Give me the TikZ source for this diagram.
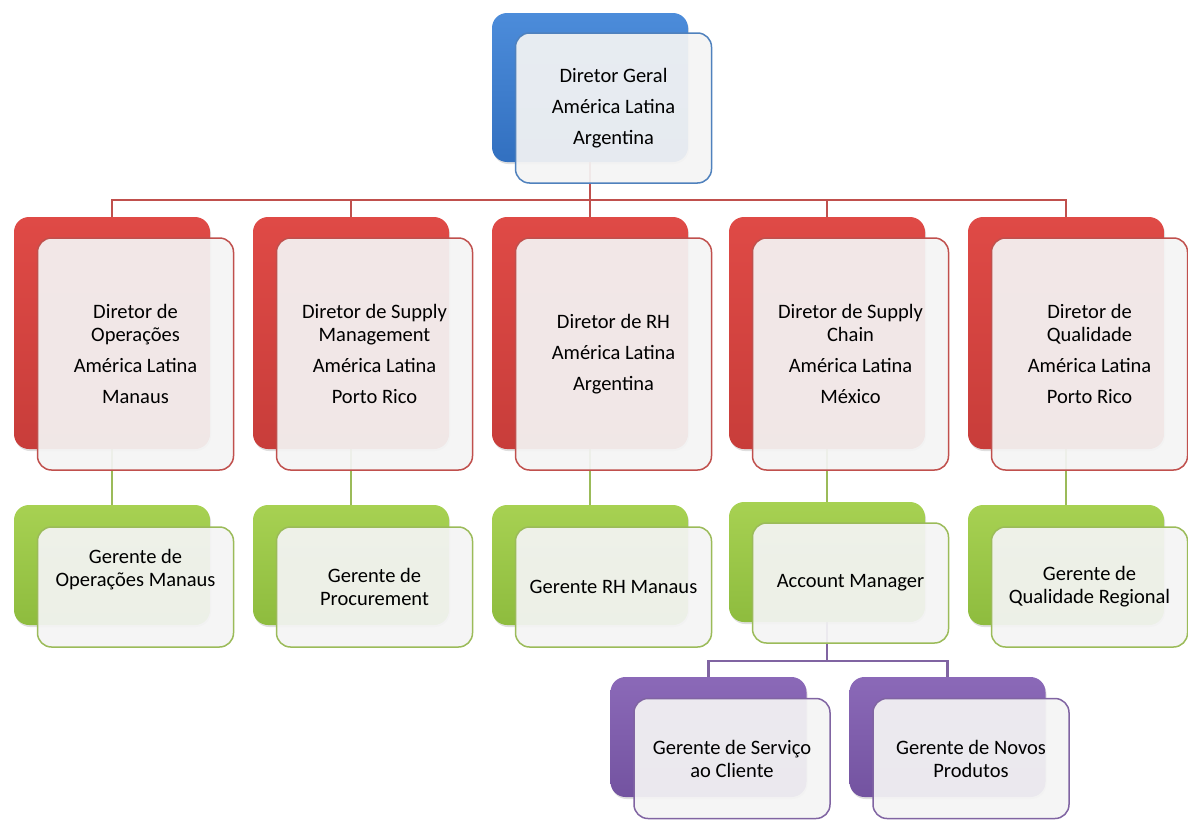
\documentclass[tikz,border=0pt]{standalone}
\usepackage{fontspec}
\setmainfont{Carlito}
\usetikzlibrary{shadows,backgrounds}

% Office-style accent colours
\definecolor{blueEdge}{HTML}{4F81BD}
\definecolor{blueTop}{HTML}{4C8CDA}
\definecolor{blueBot}{HTML}{3270C0}
\definecolor{redEdge}{HTML}{C0504D}
\definecolor{redTop}{HTML}{DF4A46}
\definecolor{redBot}{HTML}{C83D3A}
\definecolor{greenEdge}{HTML}{9BBB59}
\definecolor{greenTop}{HTML}{A7D152}
\definecolor{greenBot}{HTML}{8EBC3E}
\definecolor{purpleEdge}{HTML}{8064A2}
\definecolor{purpleTop}{HTML}{8B69B8}
\definecolor{purpleBot}{HTML}{7353A0}
\definecolor{cardFill}{HTML}{F4F4F4}

\begin{document}
\begin{tikzpicture}[x=1pt,y=-1pt,
  box/.style={rounded corners=15pt, minimum width=196pt, inner sep=0pt, outer sep=0pt},
  backbox/.style={box, drop shadow={opacity=0.25, shadow xshift=1pt, shadow yshift=-2pt}},
  bluebk/.style={backbox, minimum height=149pt, top color=blueTop, bottom color=blueBot},
  redbk/.style={backbox, minimum height=232pt, top color=redTop, bottom color=redBot},
  greenbk/.style={backbox, minimum height=120pt, top color=greenTop, bottom color=greenBot},
  purplebk/.style={backbox, minimum height=120pt, top color=purpleTop, bottom color=purpleBot},
  card/.style={box, rounded corners=14pt, fill=cardFill, fill opacity=0.93, text opacity=1,
    line width=1.5pt, align=center, text=black,
    font=\fontsize{20.5}{23}\selectfont},
  bluefr/.style={card, draw=blueEdge, minimum height=150pt},
  redfr/.style={card, draw=redEdge, minimum height=232pt},
  greenfr/.style={card, draw=greenEdge, minimum height=120pt},
  purplefr/.style={card, draw=purpleEdge, minimum height=120pt},
  redline/.style={draw=redEdge, line width=2.5pt},
  greenline/.style={draw=greenEdge, line width=2.5pt},
  purpleline/.style={draw=purpleEdge, line width=2.5pt}
]
\useasboundingbox (0,0) rectangle (1188,819);

% top level
\node[bluebk] (gb) at (590,87.5) {};
\node[bluefr] (gf) at (613.5,108) {Diretor Geral\\[8pt]América Latina\\[8pt]Argentina};

% directors
\node[redbk] (d1b) at (112,333) {};
\node[redfr] (d1f) at (135.5,354) {Diretor de\\Operações\\[8pt]América Latina\\[8pt]Manaus};
\node[redbk] (d2b) at (351,333) {};
\node[redfr] (d2f) at (374.5,354) {Diretor de Supply\\Management\\[8pt]América Latina\\[8pt]Porto Rico};
\node[redbk] (d3b) at (590,333) {};
\node[redfr] (d3f) at (613.5,354) {Diretor de RH\\[8pt]América Latina\\[8pt]Argentina};
\node[redbk] (d4b) at (827,333) {};
\node[redfr] (d4f) at (850.5,354) {Diretor de Supply\\Chain\\[8pt]América Latina\\[8pt]México};
\node[redbk] (d5b) at (1066,333) {};
\node[redfr] (d5f) at (1089.5,354) {Diretor de\\Qualidade\\[8pt]América Latina\\[8pt]Porto Rico};

% managers
\node[greenbk] (g1b) at (112,565) {};
\node[greenfr] (g1f) at (135.5,587) {Gerente de\\Operações Manaus\\[8pt]\strut};
\node[greenbk] (g2b) at (351,565) {};
\node[greenfr] (g2f) at (374.5,587) {Gerente de\\Procurement};
\node[greenbk] (g3b) at (590,565) {};
\node[greenfr] (g3f) at (613.5,587) {Gerente RH Manaus};
\node[greenbk] (g4b) at (827,562) {};
\node[greenfr] (g4f) at (850.5,583) {Account Manager};
\node[greenbk] (g5b) at (1066,565) {};
\node[greenfr] (g5f) at (1089.5,587) {Gerente de\\Qualidade Regional};

% account manager reports
\node[purplebk] (p1b) at (708.5,737) {};
\node[purplefr] (p1f) at (732,758.5) {Gerente de Serviço\\ao Cliente};
\node[purplebk] (p2b) at (947.5,737) {};
\node[purplefr] (p2f) at (971,758.5) {Gerente de Novos\\Produtos};

% connectors sit behind the boxes
\begin{scope}[on background layer]
  \foreach \d in {d1b,d2b,d3b,d4b,d5b}
    \draw[redline] (gb.south) -- ++(0,38) -| (\d.north);
  \draw[greenline] (d1b.south) -- (g1b.north);
  \draw[greenline] (d2b.south) -- (g2b.north);
  \draw[greenline] (d3b.south) -- (g3b.north);
  \draw[greenline] (d4b.south) -- (g4b.north);
  \draw[greenline] (d5b.south) -- (g5b.north);
  \draw[purpleline] (g4b.south) -- ++(0,39) -| (p1b.north);
  \draw[purpleline] (g4b.south) -- ++(0,39) -| (p2b.north);
\end{scope}
\end{tikzpicture}
\end{document}
